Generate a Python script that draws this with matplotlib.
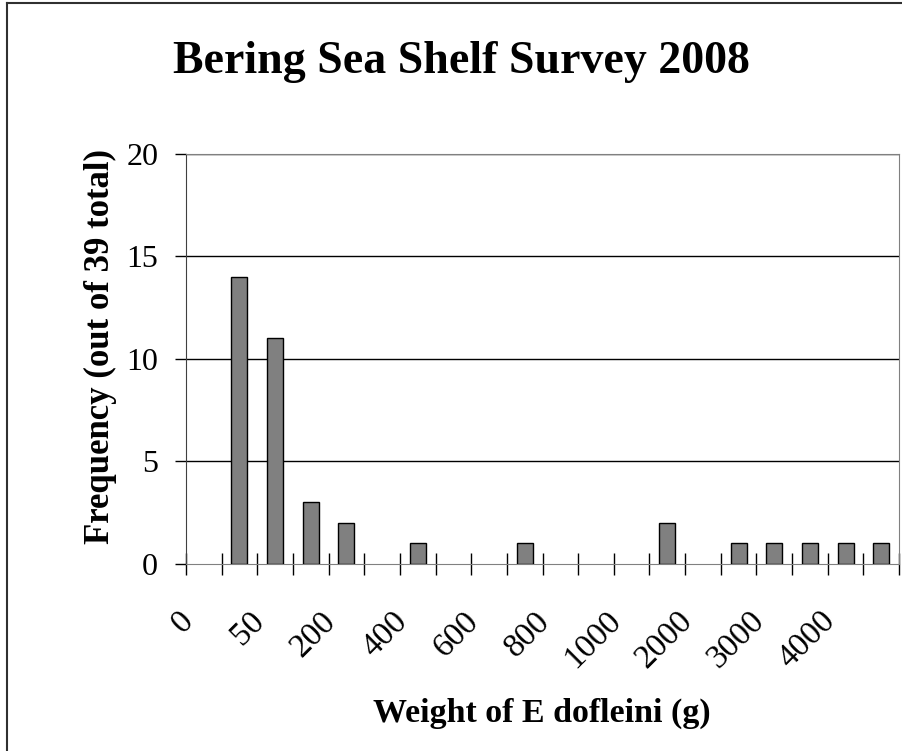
import numpy as np
import matplotlib
matplotlib.use("Agg")
import matplotlib.pyplot as plt
import matplotlib.transforms as mtransforms
from matplotlib.lines import Line2D

# histogram bins (every other label shown, as in the original)
bins = ["0", "", "50", "", "200", "", "400", "", "600", "",
        "800", "", "1000", "", "2000", "", "3000", "", "4000", ""]
counts = [0, 14, 11, 3, 2, 0, 1, 0, 0, 1, 0, 0, 0, 2, 0, 1, 1, 1, 1, 1]
y_ticks = [0, 5, 10, 15, 20]

plt.rcParams['font.family'] = ['Liberation Serif', 'DejaVu Serif']

fig = plt.figure(figsize=(9.02, 7.51), dpi=100)
ax = fig.add_axes([186 / 902, 1 - 564 / 751, (899 - 186) / 902, (564 - 153.7) / 751])

x = np.arange(len(counts))
counts = np.array(counts)
nz = counts > 0
ax.bar(x[nz] + 0.5, counts[nz], width=0.45, color="#808080", edgecolor="black",
       linewidth=1.0, zorder=3)

ax.set_xlim(0, len(counts))
ax.set_ylim(0, 20)

# x ticks at category boundaries, labels at category centers
ax.set_xticks(np.arange(len(counts) + 1))
ax.set_xticklabels([])
ax.tick_params(axis="x", which="major", direction="inout", length=16,
               width=1, color="black")
ax.set_xticks(x + 0.5, minor=True)
ax.set_xticklabels(bins, minor=True, rotation=45, ha="right",
                   rotation_mode="anchor", fontsize=24)
ax.tick_params(axis="x", which="minor", length=0, pad=30)
shift = mtransforms.ScaledTranslation(-0.26, 0, fig.dpi_scale_trans)
for lbl in ax.get_xticklabels(minor=True):
    lbl.set_transform(lbl.get_transform() + shift)

ax.set_yticks(y_ticks)
ax.set_yticklabels([str(v) for v in y_ticks], fontsize=23)
ax.tick_params(axis="y", direction="out", length=8, width=1, color="black", pad=12)

for v in y_ticks[1:]:
    ax.axhline(v, color="black", linewidth=1, zorder=1)

for side in ["top", "right"]:
    ax.spines[side].set_color("#808080")
ax.spines["left"].set_color("#404040")
ax.spines["bottom"].set_color("#808080")

fig.text(100 / 902, 1 - 347 / 751, "Frequency (out of 39 total)", rotation=90,
         ha="center", va="center", fontsize=25, fontweight="bold")
fig.text(542 / 902, 1 - 713 / 751, "Weight of E dofleini (g)",
         ha="center", va="center", fontsize=24.5, fontweight="bold")

fig.text(461 / 902, 1 - 62 / 751, "Bering Sea Shelf Survey 2008", ha="center",
         va="center", fontsize=33, fontweight="bold")

# outer chart frame (left and top edges visible)
fig.add_artist(Line2D([7.5 / 902, 7.5 / 902], [0, 1 - 3 / 751], color="#303030",
                      linewidth=1.5, transform=fig.transFigure))
fig.add_artist(Line2D([7.5 / 902, 1], [1 - 3 / 751, 1 - 3 / 751], color="#303030",
                      linewidth=1.5, transform=fig.transFigure))

fig.savefig("out.png", dpi=100, facecolor="white")
